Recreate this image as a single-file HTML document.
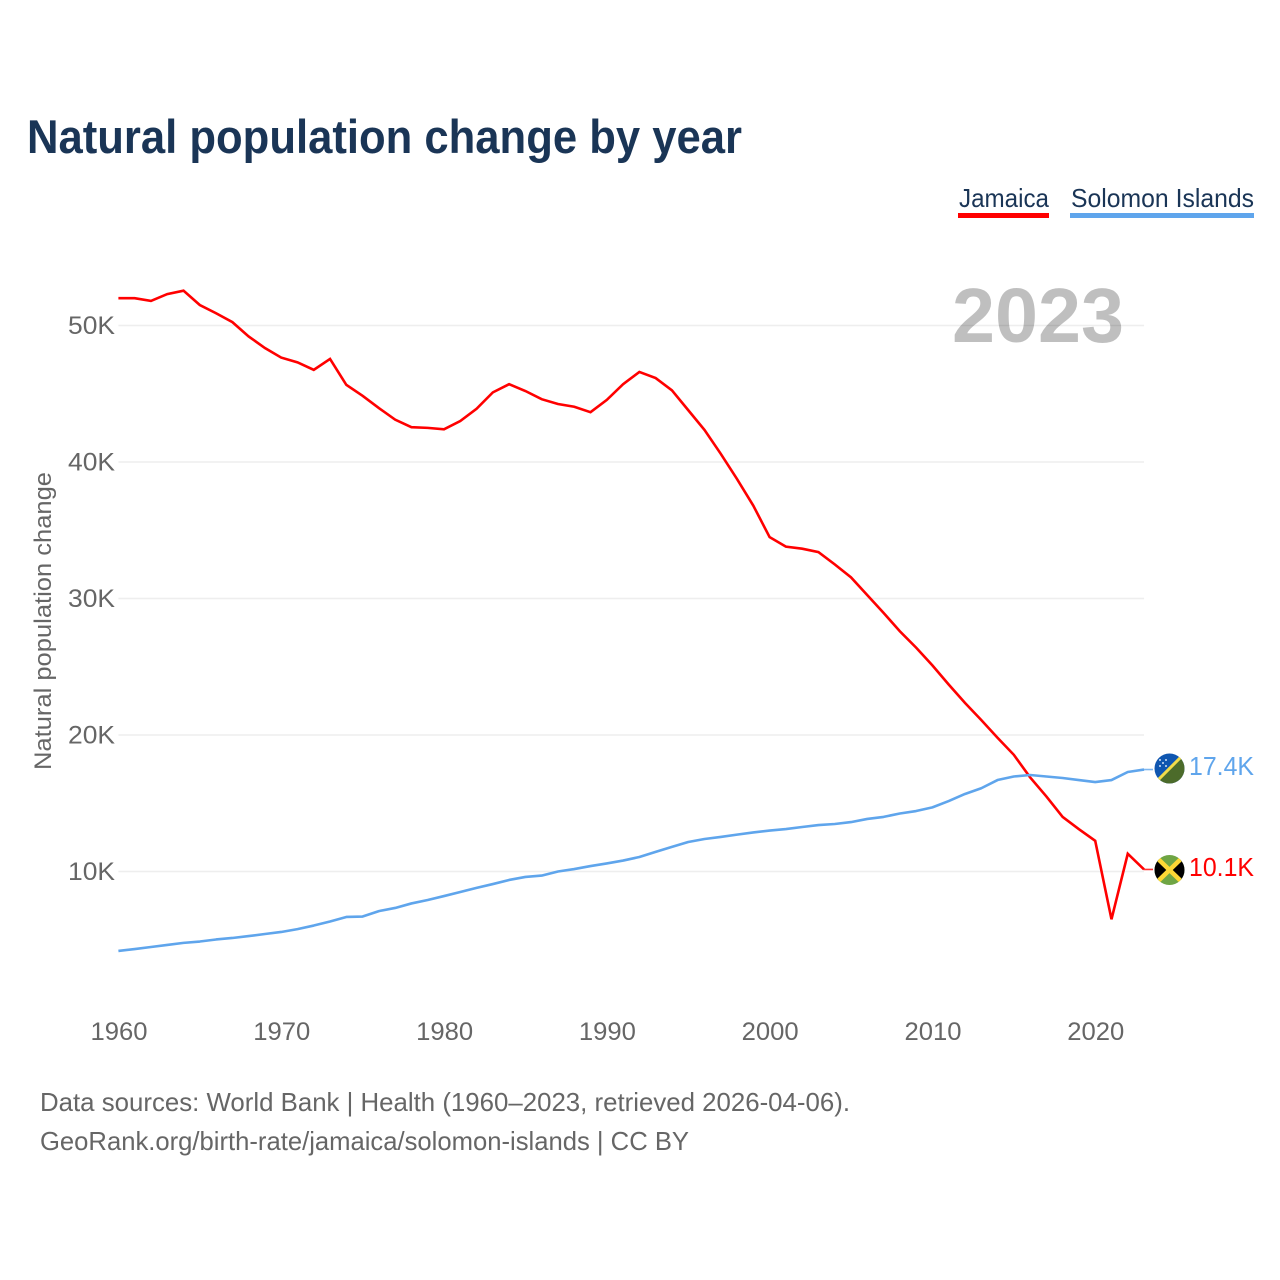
<!DOCTYPE html>
<html lang="en">
<head>
<meta charset="utf-8">
<title>Natural population change by year</title>
<style>
html,body{margin:0;padding:0;background:#fff;}
svg{display:block;font-family:"Liberation Sans",sans-serif;}
</style>
</head>
<body>
<svg id="chart" xmlns="http://www.w3.org/2000/svg" width="1280" height="1280" viewBox="0 0 1280 1280">
  <rect x="0" y="0" width="1280" height="1280" fill="#ffffff"/>
  <text x="27" y="153" font-size="47" font-weight="700" fill="#1a3556" textLength="715" lengthAdjust="spacingAndGlyphs">Natural population change by year</text>

  <g id="grid"></g>
  <g id="y-ticks"></g>
  <g id="x-ticks"></g>

  <text transform="translate(51 770) rotate(-90)" x="0" y="0" font-size="24" fill="#666666" textLength="298" lengthAdjust="spacingAndGlyphs">Natural population change</text>

  <text x="952" y="342" font-size="77" font-weight="700" fill="#000000" fill-opacity="0.25" textLength="172" lengthAdjust="spacingAndGlyphs">2023</text>

  <path id="line-jamaica" fill="none" stroke="#ff0000" stroke-width="2.6" stroke-linejoin="miter"/>
  <path id="line-solomon" fill="none" stroke="#5fa5ec" stroke-width="2.6" stroke-linejoin="round"/>
  <path id="connector-jamaica" fill="none" stroke="#ff0000" stroke-width="1.6" stroke-opacity="0.8"/>
  <path id="connector-solomon" fill="none" stroke="#5fa5ec" stroke-width="1.6" stroke-opacity="0.8"/>

  <g>
    <text x="959" y="207" font-size="26" fill="#1a3556" textLength="90" lengthAdjust="spacingAndGlyphs">Jamaica</text>
    <rect x="958" y="213" width="91" height="5" fill="#ff0000"/>
  </g>
  <g>
    <text x="1071" y="207" font-size="26" fill="#1a3556" textLength="183" lengthAdjust="spacingAndGlyphs">Solomon Islands</text>
    <rect x="1070" y="213" width="184" height="5" fill="#5fa5ec"/>
  </g>

  <defs>
    <clipPath id="clip-si"><circle cx="1169.5" cy="768.5" r="15"/></clipPath>
    <clipPath id="clip-jm"><circle cx="1169.5" cy="870" r="15"/></clipPath>
  </defs>
  <g id="flag-si" clip-path="url(#clip-si)">
    <rect x="1154" y="753" width="31" height="31" fill="#0f56b0"/>
    <polygon points="1185,753 1185,784 1154,784" fill="#4c6b2a"/>
    <line x1="1154" y1="784" x2="1185" y2="753" stroke="#f2dc4a" stroke-width="3"/>
    <g fill="#cfe0f5">
      <circle cx="1160" cy="760" r="1"/><circle cx="1166" cy="760" r="1"/><circle cx="1163" cy="763" r="1"/><circle cx="1160" cy="766" r="1"/><circle cx="1166" cy="766" r="1"/>
    </g>
  </g>
  <g id="flag-jm" clip-path="url(#clip-jm)">
    <rect x="1154" y="855" width="31" height="31" fill="#6fa544"/>
    <polygon points="1154,855 1169.5,870 1154,885" fill="#000000"/>
    <polygon points="1185,855 1169.5,870 1185,885" fill="#000000"/>
    <line x1="1154" y1="855" x2="1185" y2="885" stroke="#fdd835" stroke-width="4.5"/>
    <line x1="1185" y1="855" x2="1154" y2="885" stroke="#fdd835" stroke-width="4.5"/>
  </g>

  <text id="value-si" x="1189" y="775" font-size="26" fill="#5fa5ec" textLength="65" lengthAdjust="spacingAndGlyphs">17.4K</text>
  <text id="value-jm" x="1189" y="876" font-size="26" fill="#ff0000" textLength="65" lengthAdjust="spacingAndGlyphs">10.1K</text>

  <text x="40" y="1111" font-size="26" fill="#666666" textLength="810" lengthAdjust="spacingAndGlyphs">Data sources: World Bank | Health (1960–2023, retrieved 2026-04-06).</text>
  <text x="40" y="1150" font-size="26" fill="#666666" textLength="649" lengthAdjust="spacingAndGlyphs">GeoRank.org/birth-rate/jamaica/solomon-islands | CC BY</text>
</svg>
<script>
const startYear = 1960;
const jamaica = [52.0,52.0,51.8,52.3,52.55,51.5,50.9,50.25,49.2,48.35,47.65,47.3,46.75,47.55,45.65,44.85,43.95,43.1,42.55,42.5,42.4,43.0,43.9,45.1,45.7,45.2,44.6,44.25,44.05,43.65,44.55,45.7,46.6,46.15,45.25,43.8,42.35,40.6,38.75,36.8,34.5,33.8,33.65,33.4,32.5,31.55,30.25,28.95,27.6,26.4,25.1,23.7,22.35,21.1,19.8,18.55,16.9,15.5,14.0,13.1,12.25,6.5,11.3,10.15];
const solomonIslands = [4.18,4.32,4.47,4.62,4.77,4.87,5.02,5.13,5.27,5.42,5.57,5.78,6.04,6.34,6.67,6.7,7.1,7.33,7.66,7.91,8.2,8.5,8.8,9.08,9.38,9.6,9.7,10.0,10.18,10.4,10.59,10.8,11.06,11.44,11.8,12.16,12.38,12.53,12.7,12.86,13.0,13.11,13.26,13.4,13.48,13.62,13.85,14.0,14.25,14.43,14.7,15.16,15.68,16.1,16.7,16.96,17.07,16.96,16.85,16.7,16.55,16.7,17.29,17.47];
const yTickValues = [10,20,30,40,50];
const yTickLabels = ["10K","20K","30K","40K","50K"];
const xTickYears = [1960,1970,1980,1990,2000,2010,2020];

const NS = "http://www.w3.org/2000/svg";
function xScale(year){ return 118.4 + (year - 1960) * 16.28; }
function yScale(k){ return 871.5 - (k - 10) * 13.65; }
function linePath(values){
  return values.map(function(v,i){
    return (i ? "L" : "M") + xScale(startYear + i).toFixed(2) + " " + yScale(v).toFixed(2);
  }).join("");
}
function connectorPath(values){
  const last = values[values.length - 1];
  const lastYear = startYear + values.length - 1;
  return "M" + xScale(lastYear).toFixed(2) + " " + yScale(last).toFixed(2) + "L1153 " + yScale(last).toFixed(2);
}
document.getElementById("line-jamaica").setAttribute("d", linePath(jamaica));
document.getElementById("line-solomon").setAttribute("d", linePath(solomonIslands));
document.getElementById("connector-jamaica").setAttribute("d", connectorPath(jamaica));
document.getElementById("connector-solomon").setAttribute("d", connectorPath(solomonIslands));

const grid = document.getElementById("grid");
const yTicks = document.getElementById("y-ticks");
const xTicks = document.getElementById("x-ticks");
yTickValues.forEach(function(v,i){
  const ln = document.createElementNS(NS,"line");
  
  
  ln.setAttribute("x1", xScale(1960));
  ln.setAttribute("x2", xScale(2023));
  ln.setAttribute("y1", yScale(v));
  ln.setAttribute("y2", yScale(v));
  ln.setAttribute("stroke", "#eeeeee");
  ln.setAttribute("stroke-width", "1.5");
  grid.appendChild(ln);
  const t = document.createElementNS(NS,"text");
  
  
  t.setAttribute("x", 68);
  t.setAttribute("y", yScale(v) + 8.5);
  t.setAttribute("font-size", "25");
  t.setAttribute("fill", "#666666");
  t.setAttribute("textLength", "47");
  t.setAttribute("lengthAdjust", "spacingAndGlyphs");
  t.textContent = yTickLabels[i];
  yTicks.appendChild(t);
});
xTickYears.forEach(function(y){
  const t = document.createElementNS(NS,"text");
  
  
  t.setAttribute("x", xScale(y) - 27.9);
  t.setAttribute("y", 1040);
  t.setAttribute("font-size", "25");
  t.setAttribute("fill", "#666666");
  t.setAttribute("textLength", "57");
  t.setAttribute("lengthAdjust", "spacingAndGlyphs");
  t.textContent = String(y);
  xTicks.appendChild(t);
});
</script>
</body>
</html>
